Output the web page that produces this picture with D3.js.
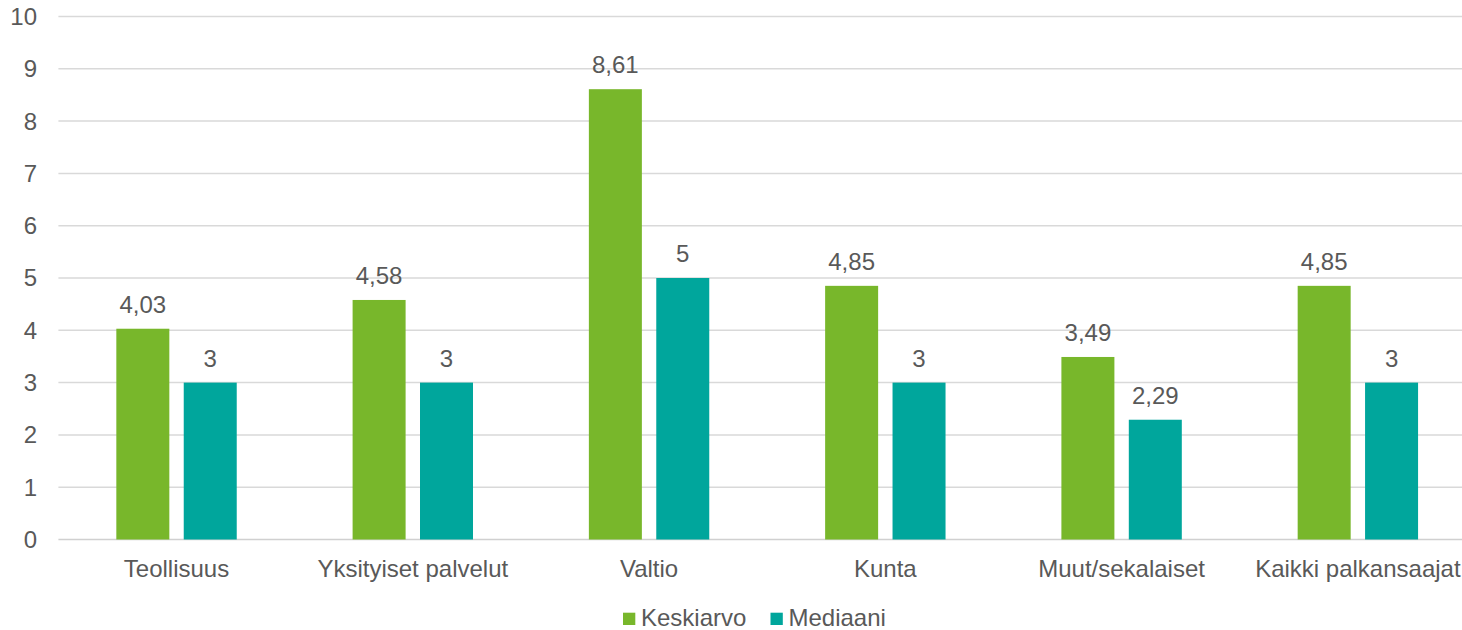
<!DOCTYPE html>
<html><head><meta charset="utf-8">
<script src="https://cdn.jsdelivr.net/npm/d3@7"></script>
<style>
html,body{margin:0;padding:0;background:#fff;overflow:hidden}
text{font-family:"Liberation Sans",Arial,sans-serif;fill:#595959}
</style></head>
<body><svg id="c" width="1462" height="630"></svg>
<script>
const categories = ["Teollisuus","Yksityiset palvelut","Valtio","Kunta","Muut/sekalaiset","Kaikki palkansaajat"];
const seriesNames = ["Keskiarvo","Mediaani"];
const keskiarvo = [4.03,4.58,8.61,4.85,3.49,4.85];
const mediaani = [3,3,5,3,2.29,3];
const yTicks = [0,1,2,3,4,5,6,7,8,9,10];
const colors = ["#78B72B","#00A69C"];

const svg = d3.select("#c");
const x0 = 58.4, x1 = 1476, yBottom = 539.5, yTop = 16.5;
const x = d3.scaleBand().domain(categories).range([x0,x1]).paddingInner(0).paddingOuter(0);
const y = d3.scaleLinear().domain([0,10]).range([yBottom,yTop]);
const barW = 53, gap = 14.4, fs = 24;

const fmt = v => String(v).replace(".",",");

// gridlines
svg.append("g").selectAll("line").data(yTicks).join("line")
  .attr("x1",x0).attr("x2",1462)
  .attr("y1",d=>y(d)).attr("y2",d=>y(d))
  .attr("stroke",d=>d===0?"#d0d0d0":"#d9d9d9").attr("stroke-width",1.5);

// y labels
svg.append("g").selectAll("text").data(yTicks).join("text")
  .attr("x",37).attr("y",d=>y(d)).attr("dy","0.35em")
  .attr("text-anchor","end").attr("font-size",fs).text(d=>d);

const series = [keskiarvo, mediaani];
series.forEach((vals,si)=>{
  const off = si===0 ? -gap/2-barW : gap/2;
  const g = svg.append("g");
  g.selectAll("rect").data(categories).join("rect")
    .attr("x",(c)=>x(c)+x.bandwidth()/2+off)
    .attr("width",barW)
    .attr("y",(c,i)=>y(vals[i]))
    .attr("height",(c,i)=>y(0)-y(vals[i]))
    .attr("fill",colors[si]);
  g.selectAll("text").data(categories).join("text")
    .attr("x",(c)=>x(c)+x.bandwidth()/2+off+barW/2)
    .attr("y",(c,i)=>y(vals[i])-16)
    .attr("text-anchor","middle").attr("font-size",fs)
    .text((c,i)=>fmt(vals[i]));
});

// category labels
svg.append("g").selectAll("text").data(categories).join("text")
  .attr("x",c=>x(c)+x.bandwidth()/2).attr("y",577)
  .attr("text-anchor","middle").attr("font-size",fs).text(c=>c);

// legend
const leg = [{x:623},{x:770.5}];
seriesNames.forEach((n,i)=>{
  svg.append("rect").attr("x",leg[i].x).attr("y",612.7).attr("width",12.3).attr("height",12.3).attr("fill",colors[i]);
  svg.append("text").attr("x",leg[i].x+18).attr("y",626).attr("font-size",fs).text(n);
});
</script></body></html>
